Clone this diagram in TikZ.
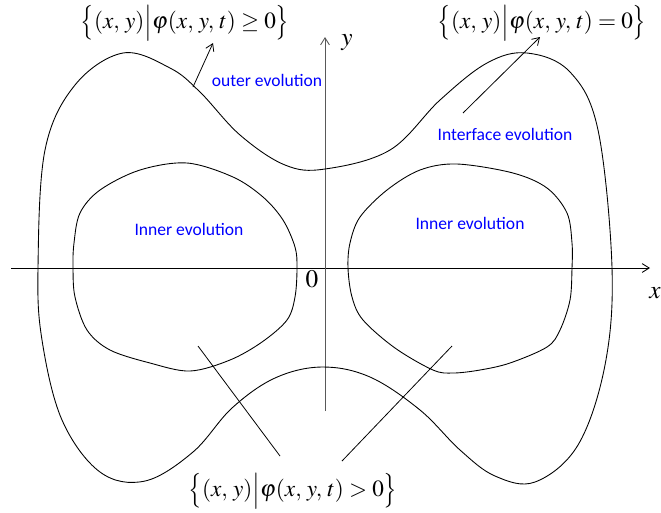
\documentclass[tikz,border=0pt]{standalone}
\usepackage{graphicx}
\usepackage{mathptmx}
\usepackage[no-math]{fontspec}
\setmainfont{Carlito}
\usetikzlibrary{arrows.meta,positioning}
\definecolor{evoblue}{RGB}{0,0,255}
\newcommand{\stretchdelim}[1]{\vcenter{\hbox{\scalebox{1}[1.25]{$\big#1$}}}}
\newcommand{\setof}[1]{$\mathopen{\stretchdelim\{}(x,\,y)\mathord{\stretchdelim|}\varphi(x,\,y,\,t)#1 0\mathclose{\stretchdelim\}}$}

\begin{document}
\begin{tikzpicture}[x=0.02cm, y=-0.02cm,
    curve/.style={black, line width=0.5pt},
    axis/.style={line width=0.5pt, -{Straight Barb[length=4pt, width=5pt]}},
    pointer/.style={line width=0.45pt},
    setlabel/.style={font=\fontsize{13.2}{16}\selectfont, inner sep=0pt},
    evolabel/.style={font=\fontsize{10}{12}\selectfont, text=evoblue, inner sep=1pt}]
  \useasboundingbox (0,0) rectangle (661,512);

  % Axes
  \coordinate (xstart) at (11,268);
  \coordinate (xend) at (650,268);
  \coordinate (ystart) at (325,411);
  \coordinate (yend) at (325,37);
  \draw[axis] (xstart) -- (xend);
  \draw[axis, black!65] (ystart) -- (yend);
  \node[font=\Large] (xlab) at (655,293) {$x$};
  \node[font=\Large] (ylab) at (347,43) {$y$};
  \node[font=\Large] (orig) at (312,279) {$0$};

  % Outer interface
  \draw[curve] plot[smooth cycle, tension=0.6] coordinates {
    (325,169) (390,150) (440,100) (487,63) (527,53) (570,72) (598,130)
    (612,268) (605,365) (578,445) (535,482) (495,476) (460,450)
    (420,410) (370,377) (322,367) (275,378) (232,408) (193,452)
    (145,481) (100,472) (62,420) (42,340) (38,268) (45,150) (75,85)
    (123,53) (170,68) (200,92) (240,135) (285,165)};

  % Inner interfaces
  \draw[curve] plot[smooth cycle, tension=0.55] coordinates {
    (187,163) (233,177) (263,197) (283,220) (295,247) (297,268) (295,297)
    (287,320) (262,342) (230,360) (190,371) (150,363) (110,350) (87,330)
    (75,297) (73,268) (74,243) (80,213) (100,190) (140,170)};
  \draw[curve] plot[smooth cycle, tension=0.55] coordinates {
    (457,164) (513,173) (547,188) (567,213) (572,243) (572,268) (570,300)
    (560,330) (547,347) (510,363) (480,370) (453,373) (433,370) (395,348)
    (363,320) (352,297) (348,268) (350,243) (360,217) (387,190) (420,170)};

  % Set labels
  \node[setlabel] (geq) at (185,23) {\setof{\geq}};
  \node[setlabel] (eq) at (542,23) {\setof{=}};
  \node[setlabel] (gt) at (293,491) {\setof{>}};

  % Region labels
  \node[evolabel] (outer) at (267,80) {outer evolution};
  \node[evolabel] (iface) at (505,134) {Interface evolution};
  \node[evolabel] (innerL) at (189,229) {Inner evolution};
  \node[evolabel] (innerR) at (470,223) {Inner evolution};

  % Pointers
  \coordinate (outfoot) at (193,87);
  \coordinate (outtip) at (213,43);
  \coordinate (iffoot) at (463,113);
  \coordinate (iftip) at (540,37);
  \coordinate (inLfoot) at (198,346);
  \coordinate (inLtip) at (280,456);
  \coordinate (inRfoot) at (452,346);
  \coordinate (inRtip) at (342,461);
  \draw[pointer, -{Straight Barb[length=4pt, width=5pt]}] (outfoot) -- (outtip);
  \draw[pointer, -{Straight Barb[length=4pt, width=5pt]}] (iffoot) -- (iftip);
  \draw[pointer] (inLfoot) -- (inLtip);
  \draw[pointer] (inRfoot) -- (inRtip);
\end{tikzpicture}
\end{document}
